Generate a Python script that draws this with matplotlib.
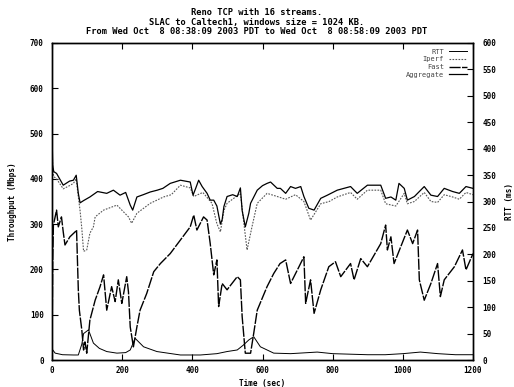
import matplotlib
matplotlib.use("Agg")
import matplotlib.pyplot as plt

# ---- data ----
agg_t = [0, 2, 5, 13, 32, 50, 61, 69, 75, 80, 90, 108, 130, 156, 175, 194, 210, 223, 230, 242,
         260, 280, 300, 316, 337, 366, 394, 402, 410, 418, 428, 442, 451, 461, 470, 480, 485, 490,
         499, 515, 528, 537, 542, 551, 561, 566, 585, 600, 613, 623, 642, 651, 666, 680, 694, 709,
         718, 732, 747, 766, 785, 813, 851, 870, 899, 937, 951, 966, 980, 989, 1004, 1013, 1033,
         1061, 1080, 1099, 1118, 1142, 1161, 1180, 1200]
agg_v = [500, 430, 416, 412, 386, 395, 397, 408, 368, 347, 352, 360, 372, 368, 375, 364, 370, 342,
         331, 360, 365, 371, 375, 379, 390, 397, 393, 364, 380, 397, 383, 368, 353, 353, 340, 300,
         310, 339, 361, 365, 361, 380, 330, 294, 324, 346, 375, 385, 390, 393, 379, 379, 368, 383,
         379, 383, 361, 335, 331, 357, 364, 375, 383, 368, 386, 386, 357, 360, 353, 390, 379, 353,
         361, 383, 364, 361, 379, 372, 368, 383, 379]

iperf_t = [0, 2, 5, 13, 32, 50, 61, 69, 75, 80, 85, 90, 99, 108, 118, 123, 147, 185, 218, 227,
           242, 280, 318, 340, 366, 394, 404, 430, 456, 470, 480, 490, 499, 537, 547, 556, 570,
           585, 613, 642, 666, 694, 718, 737, 766, 790, 813, 851, 870, 899, 937, 951, 980, 1004,
           1013, 1033, 1061, 1080, 1099, 1118, 1142, 1161, 1180, 1200]
iperf_v = [490, 420, 405, 400, 378, 385, 390, 400, 360, 330, 290, 240, 243, 280, 294, 316, 331,
           342, 316, 302, 324, 346, 360, 365, 386, 380, 361, 370, 346, 301, 283, 330, 346, 368,
           301, 243, 294, 346, 368, 361, 355, 365, 350, 309, 345, 350, 360, 370, 355, 375, 375,
           345, 340, 368, 345, 350, 370, 350, 348, 365, 360, 355, 370, 365]

fast_t = [0, 2, 4, 13, 18, 27, 32, 37, 51, 66, 70, 75, 78, 85, 90, 94, 99, 108, 123, 137, 147,
          156, 170, 180, 189, 199, 213, 218, 223, 232, 242, 251, 270, 290, 309, 337, 366, 394,
          404, 413, 432, 442, 451, 461, 470, 475, 485, 499, 513, 528, 537, 542, 551, 566, 575,
          585, 613, 632, 650, 666, 680, 704, 718, 723, 737, 747, 766, 789, 808, 823, 851, 861,
          880, 899, 937, 951, 956, 966, 975, 994, 1013, 1028, 1042, 1047, 1061, 1080, 1099,
          1107, 1118, 1147, 1170, 1180, 1200]
fast_v = [0, 214, 298, 331, 294, 316, 283, 254, 272, 283, 287, 155, 110, 66, 22, 40, 15, 88, 132,
          162, 188, 110, 162, 129, 177, 125, 184, 150, 73, 29, 73, 110, 147, 195, 213, 235, 265,
          294, 320, 287, 316, 309, 257, 188, 221, 118, 169, 155, 169, 184, 177, 96, 15, 15, 59,
          110, 162, 191, 213, 221, 169, 206, 228, 125, 177, 103, 155, 206, 217, 184, 213, 177,
          224, 206, 257, 298, 243, 272, 213, 250, 287, 257, 287, 177, 132, 169, 213, 140, 177,
          206, 243, 199, 235]

rtt_t = [0, 1, 9, 30, 61, 75, 85, 90, 104, 118, 135, 156, 185, 210, 223, 237, 261, 299, 340, 366,
         423, 470, 499, 528, 545, 561, 575, 594, 632, 680, 756, 800, 850, 900, 950, 1000, 1050,
         1100, 1150, 1200]
rtt_v = [63, 20, 13, 10, 9.5, 9.5, 30, 50, 57, 32, 22, 16, 13, 14, 19, 41, 25, 16, 12, 9.5, 9.5,
         12, 16, 19, 28, 38, 44, 25, 13, 12, 15, 12, 11, 10, 10, 12, 15, 12, 10, 10]

x_ticks = [0, 200, 400, 600, 800, 1000, 1200]
y_ticks = [0, 100, 200, 300, 400, 500, 600, 700]
y2_ticks = list(range(0, 601, 50))

title_lines = ["Reno TCP with 16 streams.",
               "SLAC to Caltech1, windows size = 1024 KB.",
               "From Wed Oct  8 08:38:09 2003 PDT to Wed Oct  8 08:58:09 2003 PDT"]

# ---- plot ----
mono = "DejaVu Sans Mono"
plt.rcParams["font.family"] = mono

fig = plt.figure(figsize=(5.14, 3.87), dpi=100)
ax = fig.add_axes([52 / 514, 27 / 387, 421 / 514, 317 / 387])
ax2 = ax.twinx()

l_rtt, = ax2.plot(rtt_t, rtt_v, color="black", lw=0.7, label="RTT")
l_iperf, = ax.plot(iperf_t, iperf_v, color="#555555", lw=0.8, ls=(0, (1.5, 1.2)), label="Iperf")
l_fast, = ax.plot(fast_t, fast_v, color="black", lw=1.0, ls=(0, (8, 1)), label="Fast")
l_agg, = ax.plot(agg_t, agg_v, color="black", lw=0.9, label="Aggregate")

ax.set_xlim(0, 1200)
ax.set_ylim(0, 700)
ax2.set_ylim(0, 600)
ax.set_xticks(x_ticks)
ax.set_yticks(y_ticks)
ax2.set_yticks(y2_ticks)

ax.tick_params(axis="x", direction="in", top=True, length=4, width=0.8, labelsize=5.5, pad=4)
ax.tick_params(axis="y", direction="in", right=False, length=4, width=0.8, labelsize=5.5, pad=6)
ax2.tick_params(axis="y", direction="in", length=4, width=0.8, labelsize=5.5, pad=7)
for lab in ax.get_xticklabels() + ax.get_yticklabels() + ax2.get_yticklabels():
    lab.set_fontweight("bold")

for a in (ax, ax2):
    for s in a.spines.values():
        s.set_linewidth(1.0)

ax.set_xlabel("Time (sec)", fontsize=5.5, fontweight="bold", labelpad=3)
ax.set_ylabel("Throughput (Mbps)", fontsize=5.5, fontweight="bold", labelpad=9)
ax2.set_ylabel("RTT (ms)", fontsize=5.5, fontweight="bold", rotation=90, labelpad=3)
ax2.yaxis.set_label_coords(1 + 32 / 421, 0.5)

fig.text(0.5, 1 - 8 / 387, "\n".join(title_lines), ha="center", va="top",
         fontsize=6.3, fontweight="bold", linespacing=1.1)

leg = ax.legend(handles=[l_rtt, l_iperf, l_fast, l_agg], loc="upper right",
                markerfirst=False, frameon=False, fontsize=5, handlelength=2.6,
                labelspacing=0.25, borderaxespad=0.4, handletextpad=0.8)
for t in leg.get_texts():
    t.set_color("#444444")

fig.savefig("out.png", dpi=100)
